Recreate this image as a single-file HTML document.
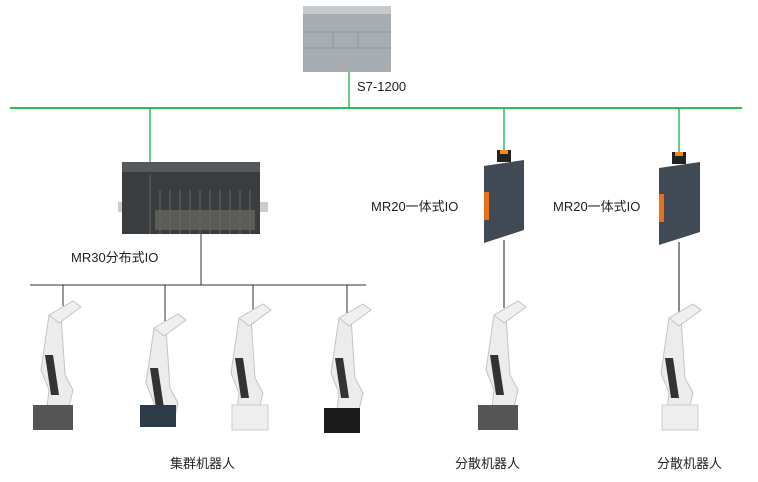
<!DOCTYPE html>
<html><head><meta charset="utf-8"><style>
body{margin:0;background:#fff;width:758px;height:482px;overflow:hidden;font-family:"Liberation Sans","Noto Sans CJK SC",sans-serif;}
.t{position:absolute;font-size:13px;color:#222;white-space:nowrap}
</style></head><body>
<svg width="758" height="482" style="position:absolute;left:0;top:0">
<defs>
<g id="rob">
 <path d="M-6,0 L6,0 L10,60 L18,75 L14,92 L-8,92 L-6,75 L-14,55 Z" fill="#ececec" stroke="#c4c4c4" stroke-width="1"/>
 <path d="M-6,0 L18,-14 L26,-8 L4,8 Z" fill="#f0f0f0" stroke="#c4c4c4"/>
 <path d="M-10,40 L-2,40 L4,80 L-4,80 Z" fill="#333"/>
</g>
</defs>
<!-- PLC -->
<rect x="303" y="6" width="88" height="66" fill="#a8adb2"/>
<rect x="303" y="6" width="88" height="8" fill="#c7cbce"/>
<line x1="303" y1="32" x2="391" y2="32" stroke="#8e9398"/>
<line x1="303" y1="48" x2="391" y2="48" stroke="#8e9398"/>
<line x1="333" y1="32" x2="333" y2="48" stroke="#8e9398"/>
<line x1="358" y1="32" x2="358" y2="48" stroke="#8e9398"/>
<!-- green bus -->
<line x1="10" y1="108" x2="742" y2="108" stroke="#2fbf5a" stroke-width="2"/>
<line x1="349" y1="72" x2="349" y2="108" stroke="#2fbf5a" stroke-width="1.5"/>
<line x1="150" y1="108" x2="150" y2="162" stroke="#2fbf5a" stroke-width="1.5"/>
<line x1="504" y1="108" x2="504" y2="150" stroke="#2fbf5a" stroke-width="1.5"/>
<line x1="679" y1="108" x2="679" y2="152" stroke="#2fbf5a" stroke-width="1.5"/>
<!-- MR30 -->
<rect x="118" y="202" width="150" height="10" fill="#ccc"/>
<rect x="122" y="162" width="138" height="72" fill="#3a3d40"/>
<rect x="122" y="162" width="138" height="10" fill="#55595d"/>
<g stroke="#666" stroke-width="1">
<line x1="150" y1="175" x2="150" y2="234"/><line x1="160" y1="190" x2="160" y2="234"/><line x1="170" y1="190" x2="170" y2="234"/><line x1="180" y1="190" x2="180" y2="234"/><line x1="190" y1="190" x2="190" y2="234"/><line x1="200" y1="190" x2="200" y2="234"/><line x1="210" y1="190" x2="210" y2="234"/><line x1="220" y1="190" x2="220" y2="234"/><line x1="230" y1="190" x2="230" y2="234"/><line x1="240" y1="190" x2="240" y2="234"/><line x1="250" y1="190" x2="250" y2="234"/>
</g>
<rect x="155" y="210" width="100" height="20" fill="#6b6a60" opacity=".7"/>
<!-- MR30 bus -->
<line x1="201" y1="234" x2="201" y2="285" stroke="#333"/>
<line x1="30" y1="285" x2="366" y2="285" stroke="#333"/>
<line x1="63" y1="285" x2="63" y2="306" stroke="#333"/>
<line x1="165" y1="285" x2="165" y2="330" stroke="#333"/>
<line x1="253" y1="285" x2="253" y2="324" stroke="#333"/>
<line x1="347" y1="285" x2="347" y2="320" stroke="#333"/>
<!-- MR20 -->
<g><rect x="497" y="150" width="14" height="12" fill="#222"/><rect x="500" y="150" width="8" height="4" fill="#f08a1a"/>
<path d="M484,166 L524,160 L524,230 L484,243 Z" fill="#3f4a55"/><rect x="484" y="192" width="5" height="28" fill="#e8701a"/></g>
<line x1="504" y1="240" x2="504" y2="308" stroke="#666" stroke-width="1.5"/>
<g><rect x="672" y="152" width="14" height="12" fill="#222"/><rect x="675" y="152" width="8" height="4" fill="#f08a1a"/>
<path d="M659,168 L700,162 L700,232 L659,245 Z" fill="#3f4a55"/><rect x="659" y="194" width="5" height="28" fill="#e8701a"/></g>
<line x1="679" y1="242" x2="679" y2="312" stroke="#666" stroke-width="1.5"/>
<!-- robots -->
<use href="#rob" x="55" y="315"/>
<use href="#rob" x="160" y="328"/>
<use href="#rob" x="245" y="318"/>
<use href="#rob" x="345" y="318"/>
<use href="#rob" x="500" y="315"/>
<use href="#rob" x="675" y="318"/>
<!-- bases -->
<rect x="33" y="405" width="40" height="25" fill="#555"/>
<rect x="140" y="405" width="36" height="22" fill="#2d3b48"/>
<rect x="232" y="405" width="36" height="25" fill="#eee" stroke="#ccc"/>
<rect x="324" y="408" width="36" height="25" fill="#1a1a1a"/>
<rect x="478" y="405" width="40" height="25" fill="#555"/>
<rect x="662" y="405" width="36" height="25" fill="#eee" stroke="#ccc"/>
</svg>
<div class="t" style="left:357px;top:79px">S7-1200</div>
<div class="t" style="left:71px;top:247px">MR30分布式IO</div>
<div class="t" style="left:371px;top:196px">MR20一体式IO</div>
<div class="t" style="left:553px;top:196px">MR20一体式IO</div>
<div class="t" style="left:170px;top:453px">集群机器人</div>
<div class="t" style="left:455px;top:453px">分散机器人</div>
<div class="t" style="left:657px;top:453px">分散机器人</div>
</body></html>
